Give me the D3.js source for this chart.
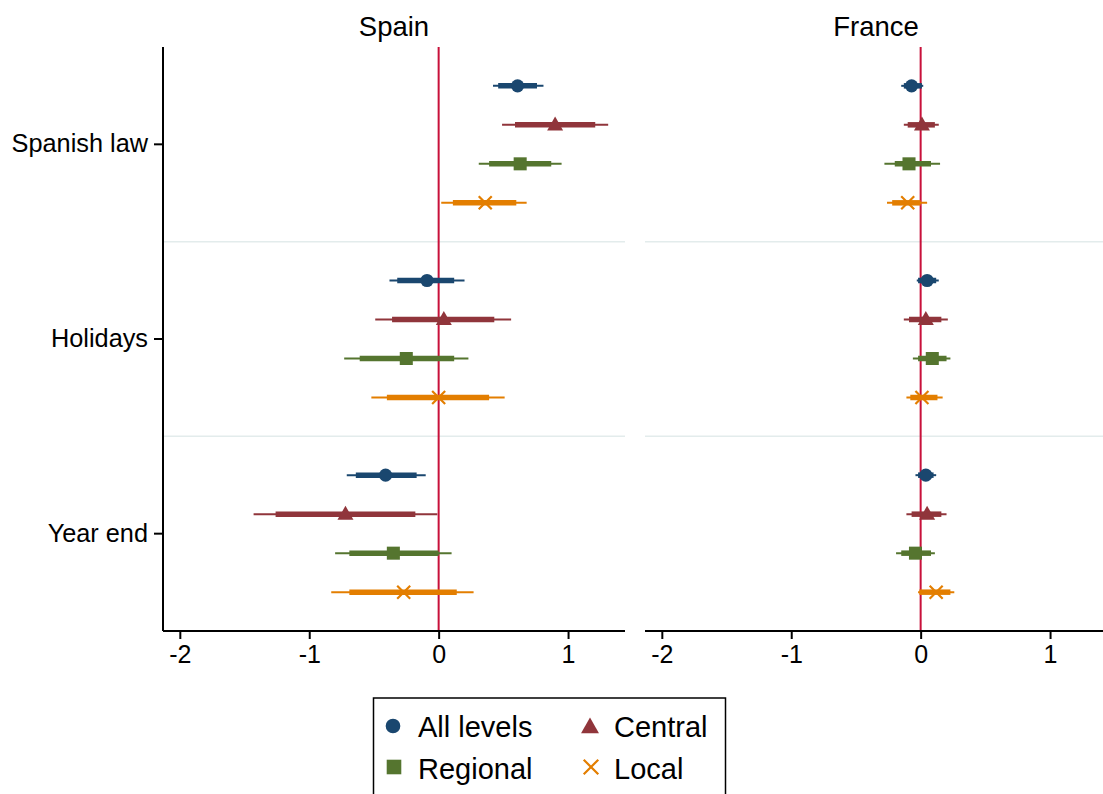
<!DOCTYPE html>
<html>
<head>
<meta charset="utf-8">
<script src="https://cdn.jsdelivr.net/npm/d3@7"></script>
<style>
  body { margin: 0; background: #fff; }
  svg { display: block; font-family: "Liberation Sans", Arial, sans-serif; }
</style>
</head>
<body>
<div id="chart"></div>
<script>
// categories
var panels = ["Spain", "France"];
var groups = ["Spanish law", "Holidays", "Year end"];
var levels = ["All levels", "Central", "Regional", "Local"];
var levelColors = ["#1a476f", "#90353b", "#55752f", "#e37e00"];
var levelSymbols = ["circle", "triangle", "square", "cross"];
var xTicks = [-2, -1, 0, 1];

// estimates, ordered group by group, level by level (Spain)
var spainPoint   = [0.61, 0.90, 0.63, 0.36,  -0.09, 0.04, -0.25, 0.00,  -0.41, -0.72, -0.35, -0.27];
var spainLo95    = [0.42, 0.49, 0.31, 0.02,  -0.38, -0.49, -0.73, -0.52, -0.71, -1.43, -0.80, -0.83];
var spainHi95    = [0.81, 1.31, 0.95, 0.68,  0.20, 0.56, 0.23, 0.51,   -0.10, -0.01, 0.10, 0.27];
var spainLo90    = [0.46, 0.59, 0.39, 0.11,  -0.32, -0.36, -0.61, -0.40, -0.64, -1.26, -0.69, -0.69];
var spainHi90    = [0.76, 1.21, 0.87, 0.60,  0.12, 0.43, 0.12, 0.39,   -0.17, -0.18, 0.00, 0.14];

// France
var francePoint  = [-0.07, 0.01, -0.09, -0.10,  0.05, 0.04, 0.09, 0.01,  0.04, 0.05, -0.04, 0.12];
var franceLo95   = [-0.15, -0.13, -0.28, -0.26, -0.03, -0.13, -0.06, -0.11, -0.04, -0.11, -0.19, -0.02];
var franceHi95   = [0.02, 0.14, 0.15, 0.05,     0.14, 0.21, 0.23, 0.17,    0.12, 0.20, 0.11, 0.26];
var franceLo90   = [-0.13, -0.10, -0.20, -0.22, -0.02, -0.09, -0.02, -0.08, -0.02, -0.07, -0.15, -0.01];
var franceHi90   = [0.01, 0.11, 0.08, 0.00,     0.12, 0.16, 0.20, 0.13,    0.10, 0.16, 0.08, 0.23];

var panelData = [
    {point: spainPoint, lo95: spainLo95, hi95: spainHi95, lo90: spainLo90, hi90: spainHi90},
    {point: francePoint, lo95: franceLo95, hi95: franceHi95, lo90: franceLo90, hi90: franceHi90}
];

var width = 1103, height = 794;
var plotTop = 47, plotBottom = 631;
var panelLeft = [163, 645];
var panelWidth = 462;

var svg = d3.select("#chart").append("svg")
    .attr("width", width)
    .attr("height", height);

var yGroup = d3.scaleBand().domain(groups).range([plotTop, plotBottom]).padding(0);
var yLevel = d3.scalePoint().domain(levels).range([-58.5, 58.5]);

function symbolPath(kind, big) {
    var s = big ? 1.12 : 1;
    if (kind === "circle") return d3.symbol(d3.symbolCircle, 135 * s * s)();
    if (kind === "square") return d3.symbol(d3.symbolSquare, 170 * s * s)();
    if (kind === "triangle") {
        var w = 8 * s, h = 14 * s;
        return "M0," + (-h * 0.6) + "L" + w + "," + (h * 0.4) + "L" + (-w) + "," + (h * 0.4) + "Z";
    }
    var c = 6.5 * s;
    return "M" + (-c) + "," + (-c) + "L" + c + "," + c + "M" + (-c) + "," + c + "L" + c + "," + (-c);
}

function drawMarker(g, kind, color, big) {
    var p = g.append("path").attr("d", symbolPath(kind, big));
    if (kind === "cross") {
        p.attr("fill", "none").attr("stroke", color).attr("stroke-width", 2.2);
    } else {
        p.attr("fill", color);
    }
    return p;
}

panels.forEach(function(name, pi) {
    var x0 = panelLeft[pi];
    var x = d3.scaleLinear().domain([-2.13, 1.44]).range([x0, x0 + panelWidth]);
    var d = panelData[pi];
    var g = svg.append("g");

    // separators between groups
    g.selectAll("line.sep").data(groups.slice(1)).enter().append("line")
        .attr("x1", x0).attr("x2", x0 + panelWidth)
        .attr("y1", function(gr) { return yGroup(gr); })
        .attr("y2", function(gr) { return yGroup(gr); })
        .attr("stroke", "#e3ecec").attr("stroke-width", 1.5);

    // zero line
    g.append("line")
        .attr("x1", x(0)).attr("x2", x(0))
        .attr("y1", plotTop).attr("y2", plotBottom)
        .attr("stroke", "#c8103a").attr("stroke-width", 2);

    // x axis
    var xAxis = d3.axisBottom(x).tickValues(xTicks).tickSize(8).tickPadding(6)
        .tickFormat(function(v) { return v; });
    var xAxisG = g.append("g").attr("transform", "translate(0," + plotBottom + ")").call(xAxis);
    xAxisG.select(".domain").attr("stroke", "#000").attr("stroke-width", 2)
        .attr("d", "M" + x0 + ",0H" + (x0 + panelWidth));
    xAxisG.selectAll(".tick line").attr("stroke", "#000").attr("stroke-width", 2);
    xAxisG.selectAll("text").attr("font-size", 25).attr("fill", "#000")
        .attr("font-family", "Liberation Sans, Arial, sans-serif");

    // y axis only on the first panel
    if (pi === 0) {
        var yAxis = d3.axisLeft(yGroup).tickSize(9).tickPadding(6);
        var yAxisG = g.append("g").attr("transform", "translate(" + x0 + ",0)").call(yAxis);
        yAxisG.select(".domain").attr("stroke", "#000").attr("stroke-width", 2)
            .attr("d", "M0," + plotTop + "V" + plotBottom);
        yAxisG.selectAll(".tick line").attr("stroke", "#000").attr("stroke-width", 2);
        yAxisG.selectAll("text").attr("font-size", 25.3).attr("fill", "#000")
            .attr("font-family", "Liberation Sans, Arial, sans-serif");
    }

    // title
    g.append("text")
        .attr("x", x0 + panelWidth / 2).attr("y", 36)
        .attr("text-anchor", "middle")
        .attr("font-size", 27.5)
        .text(name);

    // estimates
    var rows = [];
    groups.forEach(function(gr, gi) {
        levels.forEach(function(lv, li) {
            var k = gi * levels.length + li;
            rows.push({
                y: yGroup(gr) + yGroup.bandwidth() / 2 + yLevel(lv),
                li: li,
                point: d.point[k], lo95: d.lo95[k], hi95: d.hi95[k], lo90: d.lo90[k], hi90: d.hi90[k]
            });
        });
    });

    var est = g.selectAll("g.est").data(rows).enter().append("g").attr("class", "est");
    est.append("line")
        .attr("x1", function(r) { return x(r.lo95); })
        .attr("x2", function(r) { return x(r.hi95); })
        .attr("y1", function(r) { return r.y; })
        .attr("y2", function(r) { return r.y; })
        .attr("stroke", function(r) { return levelColors[r.li]; })
        .attr("stroke-width", 2);
    est.append("line")
        .attr("x1", function(r) { return x(r.lo90); })
        .attr("x2", function(r) { return x(r.hi90); })
        .attr("y1", function(r) { return r.y; })
        .attr("y2", function(r) { return r.y; })
        .attr("stroke", function(r) { return levelColors[r.li]; })
        .attr("stroke-width", 5.5);
    est.each(function(r) {
        var m = d3.select(this).append("g")
            .attr("transform", "translate(" + x(r.point) + "," + r.y + ")");
        drawMarker(m, levelSymbols[r.li], levelColors[r.li], false);
    });
});

// legend
var legend = svg.append("g");
legend.append("rect")
    .attr("x", 373.5).attr("y", 698)
    .attr("width", 352).attr("height", 120)
    .attr("fill", "#fff").attr("stroke", "#000").attr("stroke-width", 1.5);

var legendPos = [
    {mx: 393, my: 726, tx: 418, ty: 737},
    {mx: 590, my: 727, tx: 614, ty: 737},
    {mx: 394, my: 767, tx: 418, ty: 779},
    {mx: 591, my: 767, tx: 614, ty: 779}
];
levels.forEach(function(lv, i) {
    var p = legendPos[i];
    var m = legend.append("g").attr("transform", "translate(" + p.mx + "," + p.my + ")");
    drawMarker(m, levelSymbols[i], levelColors[i], true);
    legend.append("text")
        .attr("x", p.tx).attr("y", p.ty)
        .attr("font-size", 29)
        .text(lv);
});
</script>
</body>
</html>
